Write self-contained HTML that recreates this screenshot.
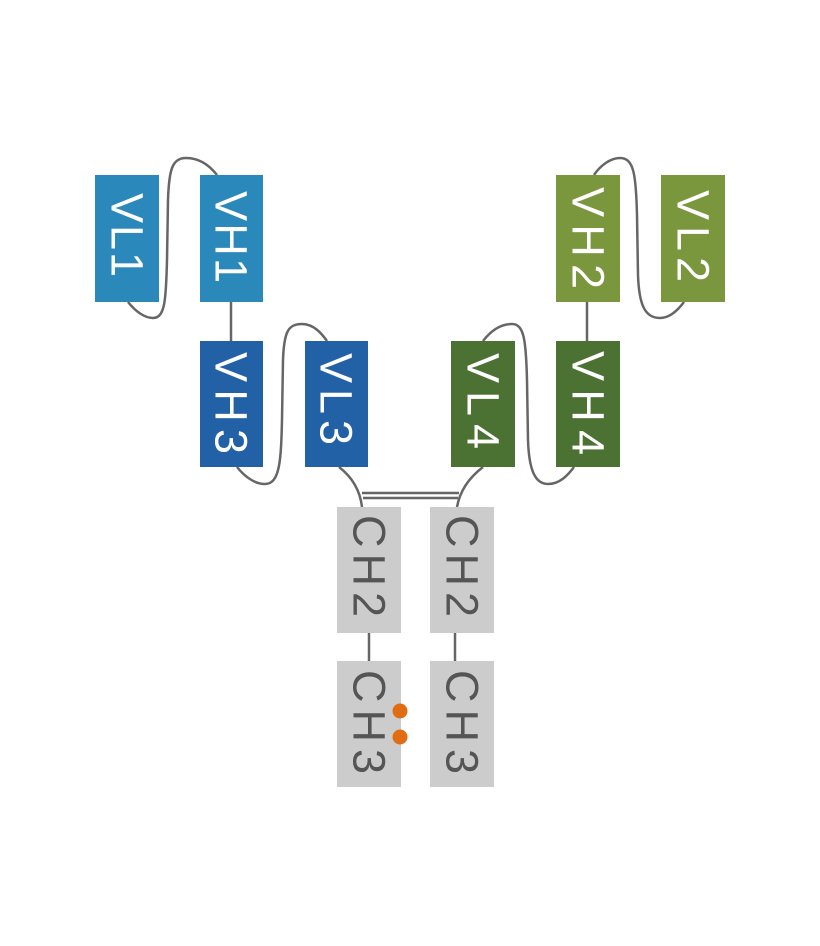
<!DOCTYPE html>
<html><head><meta charset="utf-8"><style>html,body{margin:0;padding:0;background:#fff}svg{display:block}</style></head>
<body>
<svg width="820" height="946" viewBox="0 0 820 946" xmlns="http://www.w3.org/2000/svg">
<g fill="none" stroke="#666" stroke-width="2.5">
<path d="M128,302 C136,312 145,318 153,318 C165,318 166,300 167,260 L168,200 C169,170 172,158 186,158 C200,158 210,166 217,175"/>
<path d="M237,467 C245,477 255,484 265,484 C280,484 281,460 282,420 L283,360 C284,332 288,324 302,324 C314,324 322,334 327,341"/>
<path d="M483,341 C490,332 500,324 512,324 C524,324 526,340 527,380 L528,440 C529,470 535,484 548,484 C560,484 568,475 574,467"/>
<path d="M594,175 C600,166 610,158 620,158 C634,158 636,175 637,215 L638,275 C639,305 645,318 660,318 C670,318 678,310 684,302"/>
<path d="M231,302 V341"/>
<path d="M587,302 V341"/>
<path d="M369,633 V661"/>
<path d="M455,633 V661"/>
<path d="M339,467 C352,477 360,490 362,507"/>
<path d="M483,467 C470,477 460,490 457,507"/>
<path d="M362,493 H459 M363,498 H458"/>
</g>
<rect x="95" y="175" width="64" height="127" fill="#2a88bb"/>
<rect x="200" y="175" width="63" height="127" fill="#2a88bb"/>
<rect x="200" y="341" width="63" height="126" fill="#2361a6"/>
<rect x="305" y="341" width="63" height="126" fill="#2361a6"/>
<rect x="451" y="341" width="64" height="126" fill="#4b7232"/>
<rect x="556" y="341" width="64" height="126" fill="#4b7232"/>
<rect x="556" y="175" width="64" height="127" fill="#7a973d"/>
<rect x="661" y="175" width="64" height="127" fill="#7a973d"/>
<rect x="337" y="507" width="64" height="126" fill="#cccccc"/>
<rect x="430" y="507" width="64" height="126" fill="#cccccc"/>
<rect x="337" y="661" width="64" height="126" fill="#cccccc"/>
<rect x="430" y="661" width="64" height="126" fill="#cccccc"/>
<g font-family="Liberation Sans, sans-serif" font-size="45" text-anchor="middle" dominant-baseline="central" fill="#fff">
<text transform="translate(127,235) rotate(90)" textLength="84" lengthAdjust="spacing">VL1</text>
<text transform="translate(231,237) rotate(90)" textLength="92" lengthAdjust="spacing">VH1</text>
<text transform="translate(231,403) rotate(90)" textLength="102" lengthAdjust="spacing">VH3</text>
<text transform="translate(336,399) rotate(90)" textLength="92" lengthAdjust="spacing">VL3</text>
<text transform="translate(483,401) rotate(90)" textLength="96" lengthAdjust="spacing">VL4</text>
<text transform="translate(588,403) rotate(90)" textLength="104" lengthAdjust="spacing">VH4</text>
<text transform="translate(588,238) rotate(90)" textLength="102" lengthAdjust="spacing">VH2</text>
<text transform="translate(693,236) rotate(90)" textLength="92" lengthAdjust="spacing">VL2</text>
<g fill="#555">
<text transform="translate(369,566) rotate(90)" textLength="102" lengthAdjust="spacing">CH2</text>
<text transform="translate(462,566) rotate(90)" textLength="102" lengthAdjust="spacing">CH2</text>
<text transform="translate(369,722) rotate(90)" textLength="104" lengthAdjust="spacing">CH3</text>
<text transform="translate(462,722) rotate(90)" textLength="104" lengthAdjust="spacing">CH3</text>
</g>
</g>
<circle cx="400" cy="711" r="7.5" fill="#e06c14"/>
<circle cx="400" cy="737" r="7.5" fill="#e06c14"/>
</svg>
</body></html>
